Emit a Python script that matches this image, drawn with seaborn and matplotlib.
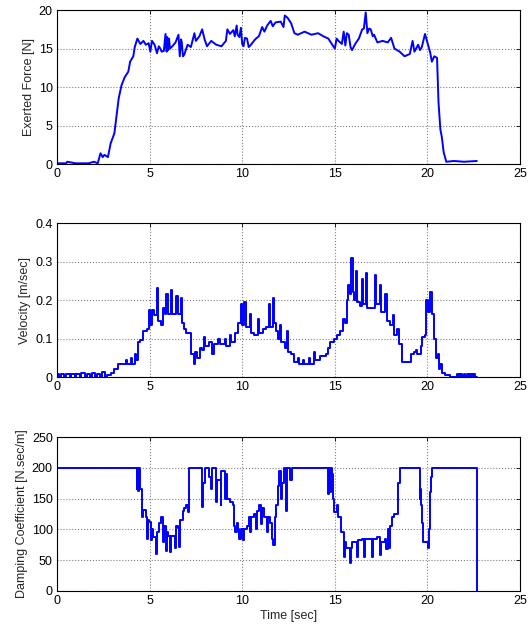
import matplotlib
matplotlib.use("Agg")
import matplotlib.pyplot as plt
import seaborn as sns

# ---- data ----
t_force = [0.0, 0.5, 0.55, 1.0, 1.7, 2.0, 2.2, 2.35, 2.47, 2.56, 2.75, 2.9, 3.1, 3.2, 3.33,
           3.48, 3.66, 3.85, 3.95, 4.12, 4.2, 4.34, 4.5, 4.67, 4.8, 4.95, 5.04, 5.13, 5.27,
           5.4, 5.5, 5.58, 5.65, 5.77, 5.86, 5.92, 5.95, 6.0, 6.05, 6.1, 6.23, 6.4, 6.56,
           6.63, 6.7, 6.74, 6.8, 6.87, 7.05, 7.23, 7.42, 7.5, 7.69, 7.84, 7.97, 8.1, 8.33,
           8.6, 8.88, 9.12, 9.2, 9.34, 9.52, 9.6, 9.7, 9.75, 9.85, 9.93, 10.0, 10.07, 10.15,
           10.26, 10.35, 10.44, 10.7, 10.9, 11.08, 11.2, 11.35, 11.54, 11.65, 11.8, 12.08,
           12.23, 12.3, 12.45, 12.64, 12.82, 13.0, 13.37, 13.74, 14.1, 14.38, 14.65, 14.84,
           15.0, 15.1, 15.2, 15.38, 15.48, 15.57, 15.65, 15.75, 15.85, 15.93, 16.1, 16.3,
           16.48, 16.57, 16.67, 16.76, 16.85, 16.94, 17.05, 17.12, 17.3, 17.58, 17.86, 18.04,
           18.22, 18.5, 18.77, 19.05, 19.2, 19.3, 19.5, 19.6, 19.7, 19.87, 20.0, 20.15, 20.24,
           20.37, 20.52, 20.6, 20.7, 20.78, 20.88, 21.02, 21.43, 21.98, 22.67]
force = [0.1, 0.1, 0.3, 0.1, 0.1, 0.3, 0.1, 1.4, 0.9, 1.2, 0.9, 2.7, 4.0, 6.0, 8.5,
         10.2, 11.3, 12.0, 13.3, 14.0, 15.2, 16.3, 15.6, 16.0, 15.5, 15.7, 14.6, 16.0, 15.5,
         14.4, 15.3, 15.0, 14.6, 14.7, 16.9, 14.6, 16.5, 14.8, 16.3, 15.0, 15.3, 15.8, 16.8,
         14.0, 16.2, 15.8, 14.0, 14.2, 15.5, 15.2, 17.0, 16.0, 16.6, 17.5, 16.2, 15.3, 16.0,
         15.5, 15.3, 16.0, 17.5, 16.9, 17.4, 16.6, 18.0, 16.8, 16.5, 17.7, 15.6, 15.3, 16.4,
         16.3, 15.2, 15.4, 16.2, 16.6, 17.8, 17.2, 18.0, 18.6, 17.9, 18.4, 18.5,
         17.8, 19.3, 19.0, 18.3, 17.0, 16.8, 17.2, 16.8, 17.0, 16.6, 16.3, 15.6,
         15.0, 16.3, 16.0, 15.6, 17.2, 15.4, 17.0, 16.8, 15.2, 14.8, 15.6, 16.3,
         17.5, 17.6, 19.7, 17.0, 17.6, 17.5, 16.6, 16.8, 15.8, 16.0, 15.8, 16.4,
         15.0, 14.6, 14.0, 14.3, 16.0, 14.6, 15.5, 14.8, 15.2, 16.9, 15.8, 14.5, 13.3,
         14.0, 13.8, 8.0, 4.5, 3.5, 1.5, 0.3, 0.4, 0.3, 0.4]

t_vel = [0.0, 0.12, 0.22, 0.4, 0.5, 0.68, 0.78, 0.95, 1.05, 1.22, 1.32, 1.5, 1.6, 1.78,
         1.88, 2.05, 2.15, 2.32, 2.42, 2.6, 2.7,
         2.93, 3.1, 3.3, 3.7, 3.78, 4.0, 4.06, 4.2, 4.28, 4.35, 4.5, 4.67, 4.85, 4.95,
         5.02, 5.15, 5.25, 5.4, 5.47, 5.6, 5.75, 5.82, 5.9, 5.97, 6.15, 6.22, 6.45, 6.52,
         6.68, 6.75, 6.85, 6.95, 7.25, 7.38, 7.45, 7.55, 7.7, 7.85, 7.93, 8.0, 8.2, 8.35,
         8.5, 8.72, 8.8, 9.05, 9.12, 9.35, 9.42, 9.6, 9.8, 9.92, 10.0, 10.12, 10.2, 10.4,
         10.47, 10.65, 10.85, 10.92, 11.1, 11.3, 11.45, 11.52, 11.65, 11.72, 11.85, 11.95,
         12.02, 12.1, 12.3, 12.42, 12.5, 12.65, 12.8, 13.0, 13.05, 13.3, 13.35, 13.6, 13.65,
         13.88, 13.95, 14.2, 14.5, 14.65, 14.75, 14.95, 15.1, 15.3, 15.45, 15.55, 15.65,
         15.72, 15.8, 15.9, 15.97, 16.05, 16.15, 16.22, 16.35, 16.45, 16.52, 16.68, 16.75,
         17.15, 17.22, 17.45, 17.52, 17.72, 17.8, 18.0, 18.15, 18.22, 18.38, 18.45, 18.65,
         19.1, 19.3, 19.38, 19.45, 19.65, 19.72, 19.85, 19.95, 20.05, 20.15, 20.27, 20.35,
         20.45, 20.55, 20.62, 20.7, 20.8, 20.95, 21.2,
         21.6, 21.7, 21.78, 21.88, 21.95, 22.05, 22.12, 22.22, 22.3, 22.4, 22.47, 22.57, 22.67]
vel = [0.008, 0.0, 0.008, 0.0, 0.008, 0.0, 0.008, 0.0, 0.008, 0.0, 0.01, 0.0, 0.008, 0.0,
       0.01, 0.0, 0.008, 0.0, 0.012, 0.0, 0.006,
       0.01, 0.02, 0.035, 0.045, 0.035, 0.05, 0.035, 0.06, 0.045, 0.09, 0.095, 0.12, 0.125, 0.175,
       0.135, 0.175, 0.16, 0.23, 0.145, 0.135, 0.18, 0.165, 0.215, 0.165, 0.225, 0.165, 0.21, 0.165,
       0.205, 0.14, 0.125, 0.115, 0.06, 0.035, 0.065, 0.05, 0.075, 0.07, 0.105, 0.08, 0.09, 0.06,
       0.085, 0.1, 0.085, 0.1, 0.08, 0.11, 0.09, 0.115, 0.14, 0.19, 0.135, 0.195, 0.13, 0.165,
       0.115, 0.11, 0.15, 0.115, 0.125, 0.13, 0.19, 0.13, 0.205, 0.14, 0.12, 0.1,
       0.135, 0.09, 0.075, 0.12, 0.065, 0.06, 0.04, 0.05, 0.035, 0.045, 0.035, 0.05, 0.035,
       0.065, 0.045, 0.055, 0.06, 0.075, 0.09, 0.1, 0.11, 0.12, 0.15, 0.14, 0.2,
       0.24, 0.215, 0.31, 0.22, 0.2, 0.275, 0.195, 0.185, 0.255, 0.19, 0.27, 0.18,
       0.265, 0.19, 0.24, 0.17, 0.215, 0.145, 0.135, 0.16, 0.11, 0.125, 0.085, 0.04,
       0.06, 0.065, 0.07, 0.06, 0.08, 0.105, 0.11, 0.2, 0.17, 0.22, 0.165, 0.1,
       0.05, 0.06, 0.02, 0.035, 0.01, 0.005, 0.0,
       0.008, 0.0, 0.008, 0.0, 0.008, 0.0, 0.008, 0.0, 0.008, 0.0, 0.008, 0.0, 0.0]

t_damp = [0.0, 4.3, 4.33, 4.38, 4.45, 4.5, 4.58, 4.67, 4.8, 4.85, 4.92, 4.95, 5.07, 5.12,
          5.2, 5.35, 5.4, 5.5, 5.64, 5.7, 5.76, 5.86, 5.92, 6.0, 6.1, 6.16, 6.28, 6.37, 6.43,
          6.55, 6.6, 6.66, 6.78, 6.87, 6.96, 7.05, 7.14, 7.84, 7.9, 8.0, 8.2, 8.33, 8.38,
          8.57, 8.62, 8.83, 8.88, 9.07, 9.12, 9.2, 9.34, 9.48, 9.56, 9.62, 9.7, 9.78, 9.85,
          9.92, 10.04, 10.1, 10.26, 10.35, 10.44, 10.5, 10.65, 10.77, 10.82, 10.9, 11.03,
          11.08, 11.2, 11.32, 11.38, 11.5, 11.62, 11.68, 11.76, 11.85, 11.94, 12.0, 12.09,
          12.14, 12.27, 12.36, 12.42, 12.6, 12.67, 14.62, 14.67, 14.72, 14.78, 14.85, 14.93,
          14.98, 15.1, 15.2, 15.35, 15.48, 15.57, 15.62, 15.75, 15.8, 15.86, 15.95, 16.12,
          16.2, 16.26, 16.45, 16.55, 16.62, 16.85, 17.0, 17.06, 17.3, 17.45, 17.52, 17.7,
          17.75, 17.85, 17.92, 18.0, 18.1, 18.2, 18.3, 18.4, 18.5, 19.58, 19.62, 19.68, 19.72,
          19.76, 19.85, 20.05, 20.1, 20.16, 20.2, 20.27, 22.64, 22.66]
damp = [200, 165, 200, 162, 200, 165, 120, 132, 120, 85, 115, 112, 82, 100,
        88, 60, 95, 110, 120, 80, 105, 65, 95, 90, 63, 90, 90, 70, 105,
        103, 72, 115, 130, 135, 140, 128, 200, 137, 175, 200, 185, 165, 200,
        145, 180, 140, 195, 150, 190, 150, 145, 140, 105, 95, 110, 100, 85,
        100, 82, 100, 105, 120, 95, 120, 125, 100, 130, 140, 108,
        135, 120, 95, 120, 110, 85, 75, 120, 140, 170, 195, 150,
        175, 200, 130, 200, 180, 200, 158, 200, 160, 200, 190, 150,
        128, 140, 120, 95, 55, 80, 70, 70, 45, 70, 80, 80,
        55, 82, 85, 55, 85, 85, 55, 85, 88, 58, 80, 85,
        68, 100, 70, 105, 120, 125, 125, 175, 200, 150, 165, 140, 110,
        80, 80, 70, 100, 160, 185, 200, 200, 0]

x_ticks = [0, 5, 10, 15, 20, 25]
force_ticks = [0, 5, 10, 15, 20]
vel_ticks = [0, 0.1, 0.2, 0.3, 0.4]
vel_labels = ["0", "0.1", "0.2", "0.3", "0.4"]
damp_ticks = [0, 50, 100, 150, 200, 250]

# ---- style: MATLAB-ish look ----
sns.set_style("whitegrid", {"grid.color": "#808080", "grid.linestyle": ":",
                            "axes.edgecolor": "black"})
plt.rcParams['font.family'] = ['Liberation Sans', 'DejaVu Sans']
plt.rcParams['font.size'] = 9
plt.rcParams['axes.linewidth'] = 0.8
plt.rcParams['grid.linewidth'] = 0.8

fig = plt.figure(figsize=(5.31, 6.31), dpi=100)
ax1 = fig.add_axes([0.1073, 0.740, 0.872, 0.244])
ax2 = fig.add_axes([0.1073, 0.4025, 0.872, 0.244])
ax3 = fig.add_axes([0.1073, 0.0634, 0.872, 0.244])

sns.lineplot(x=t_force, y=force, ax=ax1, color="blue", linewidth=1.4,
             estimator=None, sort=False)
sns.lineplot(x=t_vel, y=vel, ax=ax2, color="blue", linewidth=1.4,
             estimator=None, sort=False, drawstyle="steps-post")
sns.lineplot(x=t_damp, y=damp, ax=ax3, color="blue", linewidth=1.4,
             estimator=None, sort=False, drawstyle="steps-post")

ax1.set_ylim(0, 20)
ax1.set_yticks(force_ticks)
ax1.set_ylabel("Exerted Force [N]")

ax2.set_ylim(0, 0.4)
ax2.set_yticks(vel_ticks)
ax2.set_yticklabels(vel_labels)
ax2.set_ylabel("Velocity [m/sec]")

ax3.set_ylim(0, 250)
ax3.set_yticks(damp_ticks)
ax3.set_ylabel("Damping Coefficient [N.sec/m]")
ax3.set_xlabel("Time [sec]", labelpad=2)

for ax in (ax1, ax2, ax3):
    ax.set_xlim(0, 25)
    ax.set_xticks(x_ticks)
    ax.tick_params(direction="in", length=3, width=0.6, top=True, right=True,
                   labelsize=9, pad=3, colors="black")
    ax.yaxis.labelpad = 3
    for s in ax.spines.values():
        s.set_color("black")
        s.set_linewidth(0.8)

fig.savefig("out.png", dpi=100)
